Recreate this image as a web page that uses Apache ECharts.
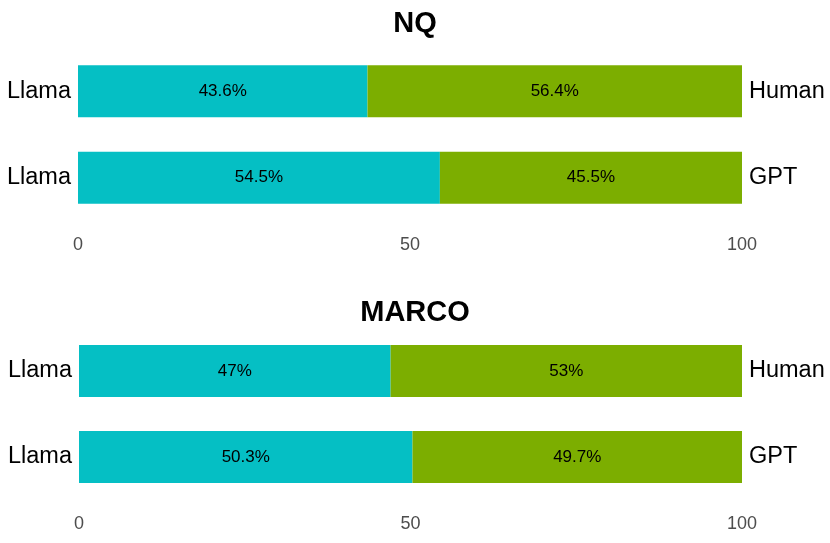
<!doctype html>
<html>
<head>
<meta charset="utf-8">
<script src="https://cdn.jsdelivr.net/npm/echarts@6/dist/echarts.min.js"></script>
<style>
  html, body { margin: 0; padding: 0; background: #fff; }
  #chart { width: 830px; height: 543px; }
</style>
</head>
<body>
<div id="chart"></div>
<script>
// rows, top to bottom
var leftLabels = ['Llama', 'Llama'];
var rightLabels = ['Human', 'GPT'];
var panelTitles = ['NQ', 'MARCO'];

var nqLlama = [43.6, 54.5];
var nqOther = [56.4, 45.5];
var marcoLlama = [47, 50.3];
var marcoOther = [53, 49.7];

var xTicks = [0, 50, 100];

var teal = '#05BFC4';
var green = '#7CAE00';
var font = '"Liberation Sans", Arial, sans-serif';

var chart = echarts.init(document.getElementById('chart'));

function xAxis(i) {
    return {
        type: 'value', gridIndex: i, min: xTicks[0], max: xTicks[xTicks.length - 1],
        interval: 50,
        axisLine: { show: false }, axisTick: { show: false }, splitLine: { show: false },
        axisLabel: { color: '#4d4d4d', fontSize: 18, fontFamily: font, margin: 15 }
    };
}
function yAxis(i, pos, labels) {
    return {
        type: 'category', gridIndex: i, position: pos, inverse: true, data: labels,
        axisLine: { show: false }, axisTick: { show: false },
        axisLabel: { color: '#000', fontSize: 23.5, fontFamily: font, margin: 7 }
    };
}
function barSeries(axisIdx, data, color) {
    return {
        type: 'bar', stack: 's' + axisIdx, xAxisIndex: axisIdx, yAxisIndex: axisIdx * 2,
        data: data, barWidth: 52, itemStyle: { color: color },
        label: {
            show: true, position: 'inside', color: '#000', fontSize: 17, fontFamily: font,
            formatter: function (p) { return p.value + '%'; }
        }
    };
}

chart.setOption({
    animation: false,
    title: [
        { text: panelTitles[0], left: 'center', top: 4, textStyle: { fontSize: 29, fontWeight: 'bold', color: '#000', fontFamily: font } },
        { text: panelTitles[1], left: 'center', top: 293, textStyle: { fontSize: 29, fontWeight: 'bold', color: '#000', fontFamily: font } }
    ],
    grid: [
        { left: 78, right: 88, top: 48, height: 173 },
        { left: 79, right: 88, top: 328, height: 172 }
    ],
    xAxis: [xAxis(0), xAxis(1)],
    yAxis: [
        yAxis(0, 'left', leftLabels), yAxis(0, 'right', rightLabels),
        yAxis(1, 'left', leftLabels), yAxis(1, 'right', rightLabels)
    ],
    series: [
        barSeries(0, nqLlama, teal),
        barSeries(0, nqOther, green),
        barSeries(1, marcoLlama, teal),
        barSeries(1, marcoOther, green)
    ]
});
</script>
</body>
</html>
